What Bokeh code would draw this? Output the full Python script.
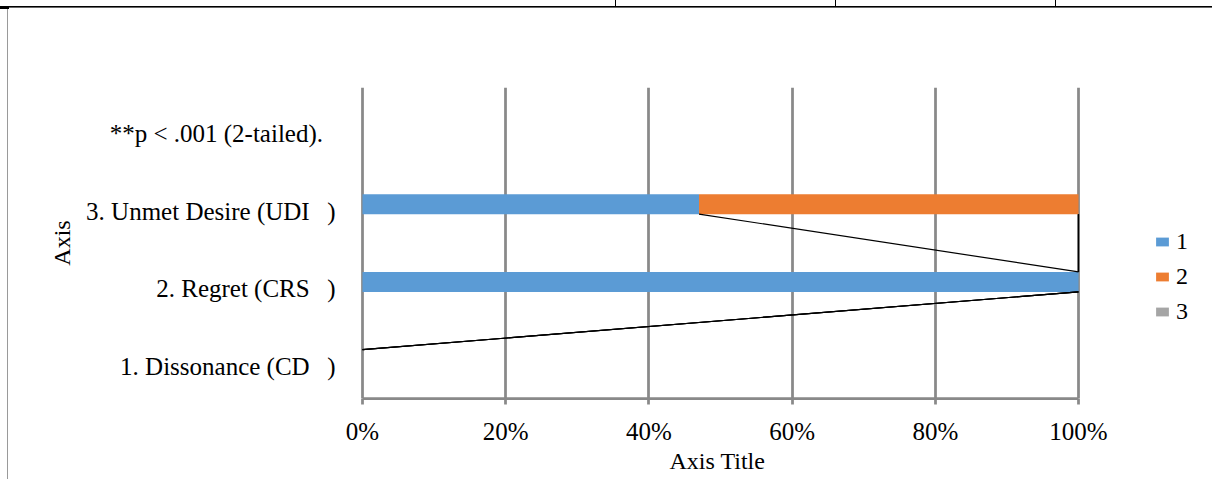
import numpy as np
from bokeh.plotting import figure
from bokeh.models import (Range1d, FixedTicker, Legend, LegendItem, ColumnDataSource, Title)
from bokeh.embed import file_html
from bokeh.resources import INLINE

# ---------------- data ----------------
categories = [
    "1. Dissonance (CD\u00a0\u00a0\u2009)",
    "2. Regret (CRS\u00a0\u00a0\u2009)",
    "3. Unmet Desire (UDI\u00a0\u00a0\u2009)",
    "**p < .001 (2-tailed).\u00a0\u00a0",
]
series_names = ["1", "2", "3"]
series_1 = [0, 100, 47, None]
series_2 = [0, 0, 53, None]
series_3 = [0, 0, 0, None]
x_ticks = [0, 20, 40, 60, 80, 100]
x_tick_labels = ["0%", "20%", "40%", "60%", "80%", "100%"]
colors = ["#5B9BD5", "#ED7D31", "#A5A5A5"]

# ---------------- layout constants ----------------
W, H = 1212, 479
FRAME_L, FRAME_R, FRAME_T, FRAME_B = 358, 1212, 87, 398
X0_PX, X100_PX = 362, 1078
FONT = "Liberation Serif"
GRID = "#898989"

px_per_unit = (X100_PX - X0_PX) / 100.0
x_lo = -(X0_PX - FRAME_L) / px_per_unit
x_hi = 100 + (FRAME_R - X100_PX) / px_per_unit
n_cat = len(categories)
py_per_unit = (FRAME_B - FRAME_T) / n_cat
bar_h = 20 / py_per_unit
label_shift = 7 / py_per_unit

p = figure(width=W, height=H, output_backend="svg", toolbar_location=None,
           x_range=Range1d(x_lo, x_hi), y_range=Range1d(0, n_cat),
           min_border_left=FRAME_L, min_border_right=W - FRAME_R,
           min_border_top=FRAME_T, min_border_bottom=H - FRAME_B,
           background_fill_color="white", border_fill_color=None)

# page decorations (table rules of the surrounding document) drawn as CSS backgrounds
deco = [  # (width, height, left, top, color)
    ("100%", "1.6px", "0px", "5.7px", "#000"),
    ("9px", "3px", "0px", "5.5px", "#000"),
    ("1.4px", "6px", "615.3px", "0px", "#000"),
    ("1.4px", "6px", "835.3px", "0px", "#000"),
    ("1.4px", "6px", "1055.3px", "0px", "#000"),
    ("1.3px", "100%", "7px", "7px", "#9a9a9a"),
]
p.styles = {
    "position": "absolute", "left": "0px", "top": "0px",
    "background-color": "white",
    "background-image": ", ".join(f"linear-gradient({c},{c})" for _, _, _, _, c in deco),
    "background-size": ", ".join(f"{w} {h}" for w, h, _, _, _ in deco),
    "background-position": ", ".join(f"{l} {t}" for _, _, l, t, _ in deco),
    "background-repeat": "no-repeat",
}
p.outline_line_color = None

# bars
ys = [i + 0.5 for i in range(n_cat)]
all_series = [series_1, series_2, series_3]
cum_left, cum_right = [], []
running = [0.0] * n_cat
for s in all_series:
    l, r = [], []
    for i, v in enumerate(s):
        if v is None:
            l.append(np.nan); r.append(np.nan)
        else:
            l.append(running[i]); r.append(running[i] + v)
            running[i] += v
    cum_left.append(l); cum_right.append(r)

renderers = []
for k, s in enumerate(all_series):
    src = ColumnDataSource(dict(y=ys, left=cum_left[k], right=cum_right[k]))
    r = p.hbar(y="y", left="left", right="right", height=bar_h, source=src,
               fill_color=colors[k], line_color=None)
    renderers.append(r)

# series lines (connect stacked segment ends between adjacent categories)
x0s, y0s, x1s, y1s = [], [], [], []
for k, s in enumerate(all_series):
    for i in range(n_cat - 1):
        if s[i] is None or s[i + 1] is None:
            continue
        x0s.append(cum_right[k][i]); y0s.append(ys[i] + bar_h / 2)
        x1s.append(cum_right[k][i + 1]); y1s.append(ys[i + 1] - bar_h / 2)
p.segment(x0=x0s, y0=y0s, x1=x1s, y1=y1s, line_color="black", line_width=1.2)

# x axis
xa = p.xaxis[0]
xa.ticker = FixedTicker(ticks=x_ticks)
xa.major_label_overrides = {t: lab for t, lab in zip(x_ticks, x_tick_labels)}
xa.bounds = (0, 100)
xa.axis_line_color = GRID
xa.axis_line_width = 2.75
xa.major_tick_line_color = GRID
xa.major_tick_line_width = 2.75
xa.major_tick_out = 6
xa.major_tick_in = 0
xa.minor_tick_line_color = None
xa.major_label_text_font = FONT
xa.major_label_text_font_size = "25px"
xa.major_label_text_color = "black"
xa.major_label_standoff = 13
xa.axis_label = None

# x-axis title, placed under the centre of the 0-100% span
x_title = Title(text="Axis Title", align="left", offset=669 - FRAME_L,
                text_font=FONT, text_font_size="24px", text_font_style="normal",
                text_color="black", standoff=0, vertical_align="top")
p.add_layout(x_title, "below")

# y axis
ya = p.yaxis[0]
ytick_pos = [y - label_shift for y in ys]
ya.ticker = FixedTicker(ticks=ytick_pos)
ya.major_label_overrides = {t: c for t, c in zip(ytick_pos, categories)}
ya.axis_line_color = None
ya.major_tick_line_color = None
ya.minor_tick_line_color = None
ya.major_label_text_font = FONT
ya.major_label_text_font_size = "25px"
ya.major_label_text_color = "black"
ya.major_label_standoff = 17
ya.axis_label = "Axis"
ya.axis_label_text_font = FONT
ya.axis_label_text_font_size = "24px"
ya.axis_label_text_font_style = "normal"
ya.axis_label_text_color = "black"
ya.axis_label_standoff = 8

p.xgrid.ticker = FixedTicker(ticks=x_ticks)
p.xgrid.grid_line_color = GRID
p.xgrid.grid_line_width = 2.75
p.ygrid.grid_line_color = None

# legend (right of the bars, inside the widened frame)
legend = Legend(items=[LegendItem(label=n, renderers=[r]) for n, r in zip(series_names, renderers)],
                location=(1154 - FRAME_L, 73))
legend.padding = 0
legend.margin = 0
legend.border_line_color = None
legend.background_fill_alpha = 0
legend.glyph_width = 16
legend.glyph_height = 11
legend.label_standoff = 6
legend.label_text_font = FONT
legend.label_text_font_size = "24px"
legend.label_text_color = "black"
legend.label_height = 26
legend.spacing = 8
p.add_layout(legend, "center")

open("out.html", "w").write(file_html(p, INLINE))
